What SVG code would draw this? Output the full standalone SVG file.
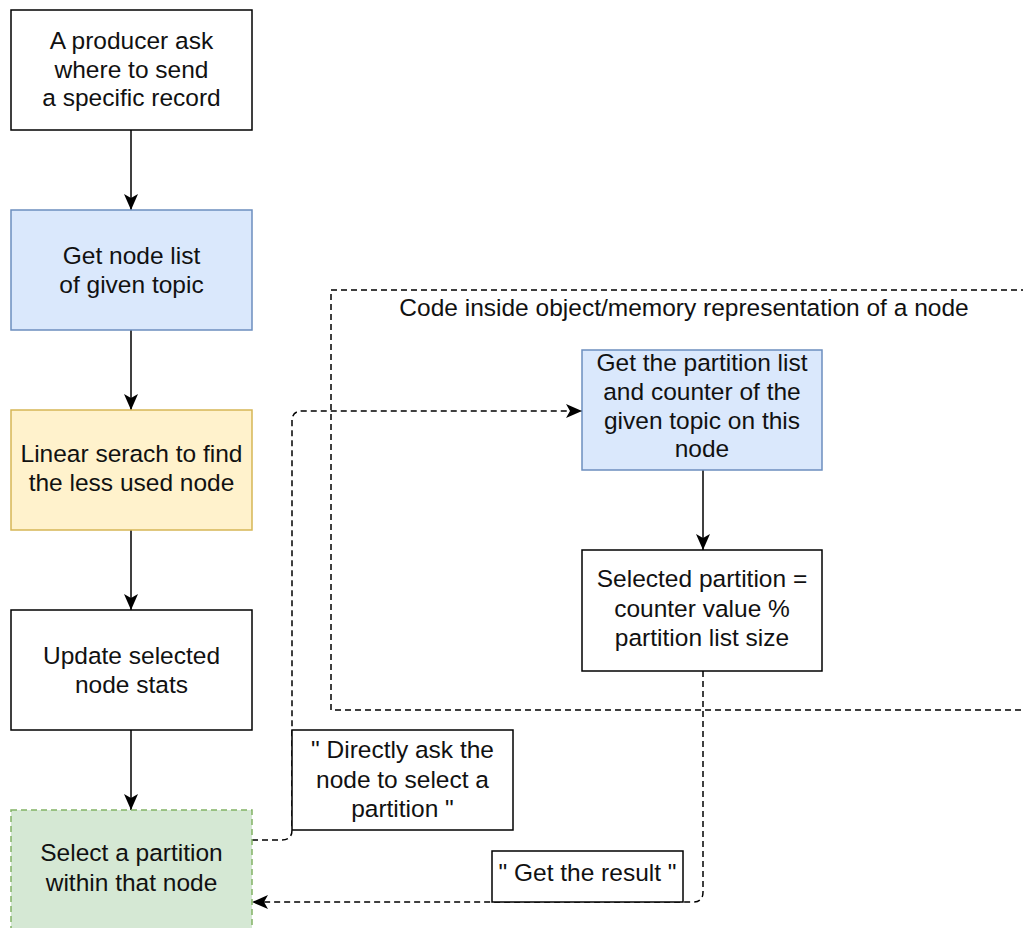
<svg xmlns="http://www.w3.org/2000/svg" width="1023" height="928" viewBox="0 0 1023 928">
<style>
  text { font-family: "Liberation Sans", Arial, sans-serif; font-size: 24.5px; fill: #111; text-anchor: middle; }
  .box { stroke-width: 1.5; }
  .plain { fill: #ffffff; stroke: #000000; }
  .blue { fill: #dae8fc; stroke: #6c8ebf; }
  .yellow { fill: #fff2cc; stroke: #d6b656; }
  .green { fill: #d5e8d4; stroke: #82b366; stroke-dasharray: 6 4; }
  .edge { fill: none; stroke: #000; stroke-width: 1.5; }
  .dashed { fill: none; stroke: #000; stroke-width: 1.5; stroke-dasharray: 6 4; }
  .label { fill: #ffffff; stroke: #000; stroke-width: 1.5; }
</style>
<defs>
  <marker id="arrow" markerUnits="userSpaceOnUse" markerWidth="18" markerHeight="16" refX="16" refY="7" orient="auto">
    <path d="M0,0 L16,7 L0,14 L4,7 Z" fill="#000"/>
  </marker>
</defs>

<g id="container">
  <rect x="331" y="290" width="710" height="420" class="dashed"/>
  <text x="684" y="316">Code inside object/memory representation of a node</text>
</g>

<g id="connectors">
  <line x1="131" y1="130" x2="131" y2="210" class="edge" marker-end="url(#arrow)"/>
  <line x1="131" y1="330" x2="131" y2="410" class="edge" marker-end="url(#arrow)"/>
  <line x1="131" y1="530" x2="131" y2="610" class="edge" marker-end="url(#arrow)"/>
  <line x1="131" y1="730" x2="131" y2="810" class="edge" marker-end="url(#arrow)"/>
  <line x1="703" y1="470" x2="703" y2="550" class="edge" marker-end="url(#arrow)"/>
  <path d="M252,840 L282,840 Q292,840 292,830 L292,421 Q292,411 302,411 L582,411" class="dashed" marker-end="url(#arrow)"/>
  <path d="M703,671 L703,892 Q703,902 693,902 L252,902" class="dashed" marker-end="url(#arrow)"/>
</g>

<g id="node-producer">
  <rect x="11" y="10" width="241" height="120" class="box plain"/>
  <text x="131.5" y="49">A producer ask</text>
  <text x="131.5" y="77.5">where to send</text>
  <text x="131.5" y="106">a specific record</text>
</g>

<g id="node-get-node-list">
  <rect x="11" y="210" width="241" height="120" class="box blue"/>
  <text x="131.5" y="264">Get node list</text>
  <text x="131.5" y="292.5">of given topic</text>
</g>

<g id="node-linear-search">
  <rect x="11" y="410" width="241" height="120" class="box yellow"/>
  <text x="131.5" y="462">Linear serach to find</text>
  <text x="131.5" y="490.5">the less used node</text>
</g>

<g id="node-update-stats">
  <rect x="11" y="610" width="241" height="120" class="box plain"/>
  <text x="131.5" y="664">Update selected</text>
  <text x="131.5" y="692.5">node stats</text>
</g>

<g id="node-select-partition">
  <rect x="11" y="810" width="241" height="120" class="box green"/>
  <text x="131.5" y="861">Select a partition</text>
  <text x="131.5" y="891">within that node</text>
</g>

<g id="node-get-partition-list">
  <rect x="582" y="350" width="240" height="120" class="box blue"/>
  <text x="702" y="371">Get the partition list</text>
  <text x="702" y="400">and counter of the</text>
  <text x="702" y="429">given topic on this</text>
  <text x="702" y="457">node</text>
</g>

<g id="node-selected-partition">
  <rect x="582" y="550" width="240" height="121" class="box plain"/>
  <text x="702" y="587">Selected partition =</text>
  <text x="702" y="617">counter value %</text>
  <text x="702" y="646">partition list size</text>
</g>

<g id="label-directly-ask">
  <rect x="292" y="730" width="221" height="100" class="label"/>
  <text x="402.5" y="758">" Directly ask the</text>
  <text x="402.5" y="788">node to select a</text>
  <text x="402.5" y="817">partition "</text>
</g>

<g id="label-get-result">
  <rect x="492" y="851" width="191" height="51" class="label"/>
  <text x="587.5" y="881">" Get the result "</text>
</g>
</svg>
